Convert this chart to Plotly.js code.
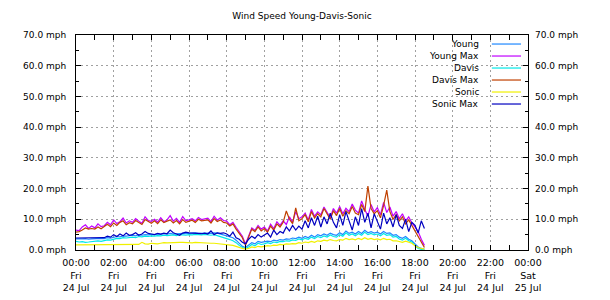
<!DOCTYPE html>
<html>
<head>
<meta charset="utf-8">
<script src="https://cdn.plot.ly/plotly-3.0.1.min.js"></script>
<style>html,body{margin:0;padding:0;background:#fff;}#chart{width:610px;height:300px;}</style>
</head>
<body>
<div id="chart"></div>
<script>
// ---- data (10-minute samples, 00:00 to 18:30, Fri 24 Jul) ----
const startTime = '2015-07-24T00:00:00';
const stepMinutes = 10;

const seriesNames = ['Young', 'Young Max', 'Davis', 'Davis Max', 'Sonic', 'Sonic Max'];
const seriesColors = ['#1e88ff', '#c000ff', '#00e8e8', '#c04000', '#f0f000', '#0000c0'];

const young = [
  3.6,3.5,3.6,3.7,3.5,3.6, 3.7,3.6,3.8,3.7,4.0,3.9, 4.2,4.4,4.3,4.6,4.5,4.7,
  4.8,4.6,5.0,4.8,5.0,4.9, 5.1,5.0,5.2,5.1,5.3,5.2, 5.4,5.2,5.3,5.5,5.4,5.3,
  5.4,5.5,5.6,5.4,5.5,5.6, 5.5,5.4,5.6,5.5,5.2,5.0, 4.8,4.4,4.0,3.2,2.2,1.2,
  0.8,1.5,2.4,2.0,2.8,2.5, 2.6,2.9,2.7,3.2,3.0,3.4, 3.2,3.6,3.5,3.9,3.7,4.2,
  3.8,4.4,4.0,4.8,4.2,5.0, 4.6,5.2,4.8,5.5,5.0,4.8, 5.6,5.0,6.2,5.4,5.8,5.2,
  6.0,5.4,6.4,5.6,6.0,5.5, 5.8,5.2,6.0,5.4,5.6,4.8, 5.0,4.2,3.8,4.4,3.5,3.0,
  2.0,1.0,0.5,0.3
];
const youngMax = [
  6.5,6.3,7.5,8.2,7.0,7.8, 7.2,8.5,7.6,7.9,9.0,8.2, 9.8,8.6,9.2,10.4,8.8,9.5,
  9.0,10.2,9.4,8.7,10.8,9.6, 9.3,10.0,9.1,10.5,9.2,9.8, 11.2,9.4,10.3,9.0,10.9,9.6,
  9.8,10.2,9.5,10.6,9.9,10.1, 10.4,9.2,11.0,9.7,10.5,9.6, 9.4,8.2,9.0,7.4,6.0,4.5,
  2.0,4.5,7.2,6.4,8.0,6.8, 7.5,6.2,8.4,7.0,9.2,8.0, 9.5,8.3,10.8,9.0,12.5,10.2,
  10.8,12.0,9.8,13.2,11.0,12.4, 11.5,14.0,12.2,10.5,13.5,12.0, 14.2,11.8,13.6,12.5,15.0,13.0,
  12.0,16.0,13.2,11.0,14.8,12.4, 13.8,11.5,15.5,12.2,14.0,11.0, 12.5,10.2,11.8,9.5,10.8,8.8,
  7.5,6.0,3.5,1.5
];
const davis = [
  2.8,2.6,2.7,2.5,2.6,2.8, 2.9,3.0,2.8,3.1,3.3,3.2, 3.6,3.8,3.7,4.0,3.9,4.1,
  4.2,4.0,4.4,4.3,4.5,4.4, 4.6,4.5,4.7,4.6,4.8,4.7, 4.8,4.9,4.7,5.0,4.9,4.8,
  5.0,4.9,5.1,5.0,4.9,5.1, 4.9,4.8,5.0,4.7,4.5,4.2, 3.9,3.4,3.0,2.4,1.5,0.8,
  0.5,1.0,1.8,1.4,2.2,1.8, 2.0,2.4,2.1,2.6,2.4,2.8, 2.7,3.0,2.9,3.3,3.1,3.6,
  3.3,3.8,3.5,4.2,3.7,4.4, 4.0,4.6,4.2,4.9,4.4,4.2, 5.0,4.5,5.6,4.8,5.2,4.6,
  5.4,4.8,5.8,5.0,5.4,4.9, 5.2,4.6,5.4,4.8,5.0,4.2, 4.4,3.6,3.2,3.8,3.0,2.6,
  1.4,0.5,0.2,0.1
];
const davisMax = [
  5.8,6.0,6.5,7.2,6.8,7.0, 6.8,7.5,6.9,7.8,8.4,7.6, 8.8,8.0,9.0,9.5,8.2,8.9,
  8.5,9.6,9.0,8.3,9.9,9.2, 8.7,9.5,8.6,9.8,8.9,9.4, 9.8,8.8,9.6,8.5,9.9,9.0,
  9.4,9.7,9.0,10.0,9.5,9.6, 9.8,8.8,10.2,9.3,9.8,9.0, 8.8,7.8,8.5,6.8,5.5,4.0,
  1.5,4.0,6.8,6.0,7.5,6.2, 7.0,5.8,7.8,6.5,8.5,7.5, 9.0,12.7,10.0,8.6,13.7,9.5,
  10.2,11.5,9.2,12.5,10.4,11.8, 10.8,13.5,11.5,10.0,12.8,11.2, 13.5,11.0,12.8,11.8,14.2,12.0,
  11.5,14.8,12.5,20.8,13.5,11.8, 12.8,10.5,14.5,19.5,12.5,10.0, 11.5,9.5,10.8,8.5,9.8,8.0,
  6.5,4.5,2.5,0.8
];
const sonic = [
  1.7,1.7,1.7,1.7,1.7,1.7, 1.7,1.7,1.8,1.7,1.7,1.8, 1.8,1.8,1.8,1.9,1.8,1.8,
  1.8,1.9,1.8,2.5,2.0,1.9, 2.2,2.1,2.0,2.2,2.4,2.3, 2.4,2.3,2.4,2.5,2.5,2.4,
  2.4,2.3,2.5,2.4,2.3,2.4, 2.3,2.2,2.2,2.1,2.0,1.8, 1.8,1.6,1.5,1.2,0.8,0.5,
  0.3,0.5,1.0,0.8,1.2,1.0, 1.2,1.4,1.3,1.6,1.5,1.8, 1.7,2.0,1.9,2.1,2.0,2.4,
  2.2,2.6,2.4,2.8,2.5,3.0, 2.8,3.2,3.0,3.4,3.1,3.0, 3.4,3.2,3.8,3.4,3.6,3.3,
  3.8,3.4,4.0,3.5,3.8,3.4, 3.6,3.3,3.8,3.4,3.5,3.0, 3.0,2.8,2.5,2.9,2.6,2.2,
  1.4,0.8,0.5,0.3
];
const sonicMax = [
  3.9,3.9,4.0,3.9,3.9,4.0, 4.0,4.0,4.1,4.0,4.5,4.2, 5.0,4.4,5.2,4.6,5.5,4.8,
  5.0,5.6,4.8,5.2,6.0,5.4, 5.2,5.0,5.4,5.2,5.5,5.3, 6.5,5.6,5.2,4.8,5.5,5.8,
  5.6,5.5,5.6,5.5,5.3,5.5, 5.2,6.2,5.0,5.6,5.4,5.6, 5.2,4.5,5.8,4.0,3.5,2.5,
  2.0,3.5,4.5,3.8,5.0,4.2, 4.8,5.5,4.2,6.5,5.0,6.0, 5.5,7.5,6.2,8.0,6.5,7.8,
  6.8,9.5,7.2,10.5,8.0,11.0, 7.5,10.8,8.5,12.0,9.0,7.2, 11.5,8.0,12.5,9.5,6.5,10.8,
  8.0,13.5,9.0,12.0,7.2,11.8, 9.5,6.8,12.0,8.5,10.5,7.5, 11.5,8.0,7.0,10.0,6.0,9.0,
  8.0,5.5,9.5,7.0
];

// tick labels (every 2 hours)
const tickDates = ['2015-07-24 00:00','2015-07-24 02:00','2015-07-24 04:00','2015-07-24 06:00',
  '2015-07-24 08:00','2015-07-24 10:00','2015-07-24 12:00','2015-07-24 14:00',
  '2015-07-24 16:00','2015-07-24 18:00','2015-07-24 20:00','2015-07-24 22:00','2015-07-25 00:00'];
const tickTimes = ['00:00','02:00','04:00','06:00','08:00','10:00','12:00','14:00','16:00','18:00','20:00','22:00','00:00'];
const tickDays = ['Fri','Fri','Fri','Fri','Fri','Fri','Fri','Fri','Fri','Fri','Fri','Fri','Sat'];
const tickDayMonth = ['24 Jul','24 Jul','24 Jul','24 Jul','24 Jul','24 Jul','24 Jul','24 Jul','24 Jul','24 Jul','24 Jul','24 Jul','25 Jul'];

// ---- build ----
const seriesValues = [young, youngMax, davis, davisMax, sonic, sonicMax];
function pad(n){ return (n < 10 ? '0' : '') + n; }
const t0 = new Date(startTime + 'Z').getTime();
const times = young.map((_, i) => {
  const d = new Date(t0 + i * stepMinutes * 60000);
  return d.getUTCFullYear() + '-' + pad(d.getUTCMonth() + 1) + '-' + pad(d.getUTCDate()) + ' ' +
         pad(d.getUTCHours()) + ':' + pad(d.getUTCMinutes());
});

const traces = seriesValues.map((vals, k) => ({
  type: 'scatter', mode: 'lines', name: seriesNames[k],
  x: times, y: vals,
  yaxis: k === seriesValues.length - 1 ? 'y2' : 'y',
  line: { color: seriesColors[k], width: 1.2 },
  showlegend: false, hoverinfo: 'skip'
}));

const fontFam = 'DejaVu Sans, sans-serif';
const ticktext = tickTimes.map((t, i) => t + '<br>' + tickDays[i] + '<br>' + tickDayMonth[i]);

// legend built from names/colors (text right, sample line on the right)
const annotations = [];
const shapes = [];
const legTop = 0.958, legStep = 0.0558;
seriesNames.forEach((nm, k) => {
  const yy = legTop - k * legStep;
  annotations.push({ xref: 'paper', yref: 'paper', x: 0.896, y: yy, xanchor: 'right', yanchor: 'middle',
    text: nm, showarrow: false, font: { family: fontFam, size: 9, color: '#000' } });
  shapes.push({ type: 'line', xref: 'paper', yref: 'paper', x0: 0.920, x1: 0.9845, y0: yy, y1: yy,
    line: { color: seriesColors[k], width: 1.2 } });
});

const yCommon = {
  range: [0, 70], dtick: 10, tick0: 0, tickformat: '.1f', ticksuffix: ' mph',
  ticks: 'inside', ticklen: 5, tickcolor: '#000', tickwidth: 1,
  tickfont: { family: fontFam, size: 9, color: '#000' },
  fixedrange: true, zeroline: false
};

const layout = {
  width: 610, height: 300,
  margin: { l: 76, r: 82, t: 35, b: 50, pad: 0 },
  paper_bgcolor: '#fff', plot_bgcolor: '#fff',
  font: { family: fontFam, size: 9, color: '#000' },
  title: { text: 'Wind Speed Young-Davis-Sonic', x: 0.5, xref: 'paper', y: 1 - 16 / 300, yref: 'container',
    xanchor: 'center', yanchor: 'middle', font: { family: fontFam, size: 9, color: '#000' } },
  xaxis: {
    type: 'date', range: ['2015-07-24 00:00', '2015-07-25 00:00'],
    tickmode: 'array', tickvals: tickDates, ticktext: ticktext,
    ticks: 'inside', ticklen: 5, tickcolor: '#000',
    minor: { dtick: 3600000, ticks: 'inside', ticklen: 3, tickcolor: '#000', showgrid: false },
    showline: true, linecolor: '#000', linewidth: 1, mirror: 'allticks',
    showgrid: true, gridcolor: '#a0a0a0', gridwidth: 1, griddash: '2px,3px',
    tickfont: { family: fontFam, size: 9.5, color: '#000' },
    ticklabelstandoff: 4,
    zeroline: false, fixedrange: true
  },
  yaxis: Object.assign({}, yCommon, {
    showline: true, linecolor: '#000', linewidth: 1, mirror: 'allticks',
    minor: { dtick: 5, ticks: 'inside', ticklen: 3, tickcolor: '#000', showgrid: false },
    showgrid: true, gridcolor: '#a0a0a0', gridwidth: 1, griddash: '2px,3px',
    ticklabelstandoff: 7
  }),
  yaxis2: Object.assign({}, yCommon, {
    overlaying: 'y', side: 'right', ticks: '', showgrid: false, showline: false,
    ticklabelstandoff: 6
  }),
  showlegend: false,
  annotations: annotations,
  shapes: shapes
};

Plotly.newPlot('chart', traces, layout, { staticPlot: true, displayModeBar: false });
</script>
</body>
</html>
